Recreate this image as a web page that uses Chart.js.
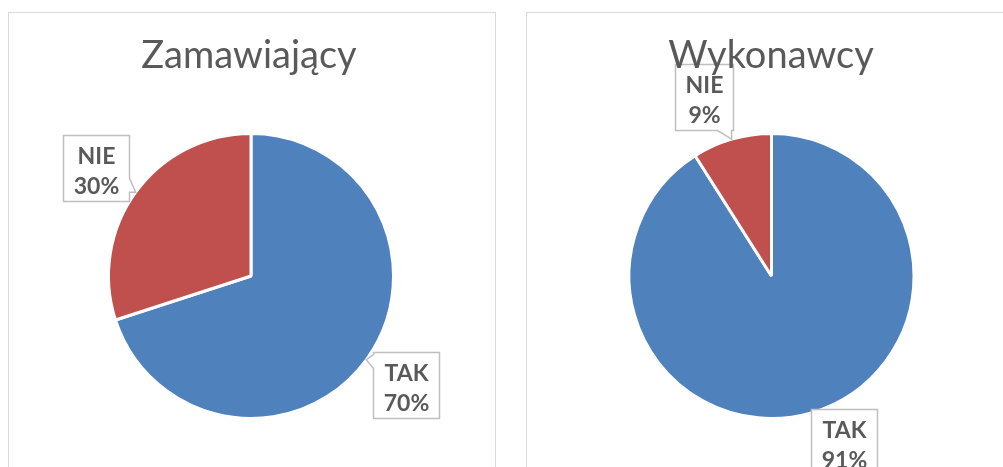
<!DOCTYPE html>
<html>
<head>
<meta charset="utf-8">
<script src="https://cdn.jsdelivr.net/npm/chart.js@4.4.1/dist/chart.umd.min.js"></script>
<style>
  html, body { margin: 0; padding: 0; background: #ffffff; width: 1003px; height: 467px; overflow: hidden; }
  .panel { position: absolute; top: 12px; width: 486px; height: 470px; border: 1px solid #d9d9d9; background: #fff; }
  .panel canvas { display: block; }
</style>
</head>
<body>
<div class="panel" style="left:8px"><canvas id="c1" width="486" height="460"></canvas></div>
<div class="panel" style="left:526px"><canvas id="c2" width="486" height="460"></canvas></div>
<script>
// ---- data ----
const categories = ['TAK', 'NIE'];
const zamawiajacyValues = [70, 30];
const wykonawcyValues = [91, 9];
const chartTitles = ['Zamawiający', 'Wykonawcy'];

// ---- style ----
const sliceColors = ['#4F81BD', '#C0504D'];
const textGray = '#595959';

const calloutPlugin = {
  id: 'callouts',
  afterDatasetsDraw(chart, args, opts) {
    const ctx = chart.ctx;
    const meta = chart.getDatasetMeta(0);
    const ds = chart.data.datasets[0];
    const total = ds.data.reduce((a, b) => a + b, 0);
    ctx.save();
    ctx.font = 'bold 23px Lato';
    meta.data.forEach((arc, i) => {
      const p = arc.getProps(['x', 'y', 'startAngle', 'endAngle', 'outerRadius'], true);
      const mid = (p.startAngle + p.endAngle) / 2;
      const dist = p.outerRadius * opts.factor;
      const nudge = (opts.nudges && opts.nudges[i]) || [0, 0];
      const cx = p.x + Math.cos(mid) * dist + nudge[0];
      const cy = p.y + Math.sin(mid) * dist + nudge[1];
      const tipX = p.x + Math.cos(mid) * p.outerRadius;
      const tipY = p.y + Math.sin(mid) * p.outerRadius;
      const line1 = chart.data.labels[i];
      const line2 = Math.round(ds.data[i] / total * 100) + '%';
      const tw = Math.max(ctx.measureText(line1).width, ctx.measureText(line2).width);
      const w = Math.round(tw + 20), h = 66;
      const L = Math.round(cx - w / 2) + 0.5, T = Math.round(cy - h / 2) + 0.5, R = L + w, B = T + h;
      const tail = 14;
      const cl = (v, a, b) => Math.max(a, Math.min(b, v));
      ctx.beginPath();
      let side = null;
      if (tipX > R + 3) side = 'right';
      else if (tipX < L - 3) side = 'left';
      else if (tipY > B + 3) side = 'bottom';
      else if (tipY < T - 3) side = 'top';
      ctx.moveTo(L, T);
      if (side === 'top') { const a = cl(tipX - tail / 2, L + 2, R - 2 - tail); ctx.lineTo(a, T); ctx.lineTo(tipX, tipY); ctx.lineTo(a + tail, T); }
      ctx.lineTo(R, T);
      if (side === 'right') { const a = cl(tipY - tail, T + 2, B - 2 - tail); ctx.lineTo(R, a); ctx.lineTo(tipX, tipY); ctx.lineTo(R, a + tail); }
      ctx.lineTo(R, B);
      if (side === 'bottom') { const a = cl(tipX - tail, L + 2, R - 2 - tail); ctx.lineTo(a + tail, B); ctx.lineTo(tipX, tipY); ctx.lineTo(a, B); }
      ctx.lineTo(L, B);
      if (side === 'left') { const a = cl(tipY - tail / 2, T + 2, B - 2 - tail); ctx.lineTo(L, a + tail); ctx.lineTo(tipX, tipY); ctx.lineTo(L, a); }
      ctx.closePath();
      ctx.fillStyle = '#ffffff';
      ctx.fill();
      ctx.strokeStyle = '#bfbfbf';
      ctx.lineWidth = 1.5;
      ctx.stroke();
      ctx.fillStyle = textGray;
      ctx.textAlign = 'center';
      ctx.textBaseline = 'alphabetic';
      ctx.fillText(line1, (L + R) / 2, T + 28);
      ctx.fillText(line2, (L + R) / 2, T + 58);
    });
    ctx.restore();
  }
};

const titlePlugin = {
  id: 'bigTitle',
  afterDraw(chart, args, opts) {
    const ctx = chart.ctx;
    ctx.save();
    ctx.font = '38px Lato';
    ctx.fillStyle = textGray;
    ctx.textAlign = 'center';
    ctx.textBaseline = 'alphabetic';
    ctx.fillText(opts.text, opts.x, opts.y);
    ctx.restore();
  }
};

function makePie(id, title, values, padLeft, titleX, nudges) {
  return new Chart(document.getElementById(id), {
    type: 'pie',
    data: {
      labels: categories,
      datasets: [{
        data: values,
        backgroundColor: sliceColors,
        borderColor: '#ffffff',
        borderWidth: 3,
        hoverOffset: 0
      }]
    },
    options: {
      responsive: false,
      devicePixelRatio: 1,
      animation: false,
      events: [],
      layout: { padding: { left: padLeft, right: 486 - padLeft - 288, top: 119, bottom: 53 } },
      plugins: {
        legend: { display: false },
        tooltip: { enabled: false },
        title: { display: false },
        bigTitle: { text: title, x: titleX, y: 55 },
        callouts: { factor: 1.34, nudges: nudges }
      }
    },
    plugins: [calloutPlugin, titlePlugin]
  });
}

function build() {
  makePie('c1', chartTitles[0], zamawiajacyValues, 98, 240, [[1, -3], [-1, 4]]);
  makePie('c2', chartTitles[1], wykonawcyValues, 100.5, 244, [[19, -17], [-14, 4]]);
}
Promise.all([
  document.fonts.load('38px Lato'),
  document.fonts.load('bold 23px Lato')
]).then(build, build);
</script>
</body>
</html>
